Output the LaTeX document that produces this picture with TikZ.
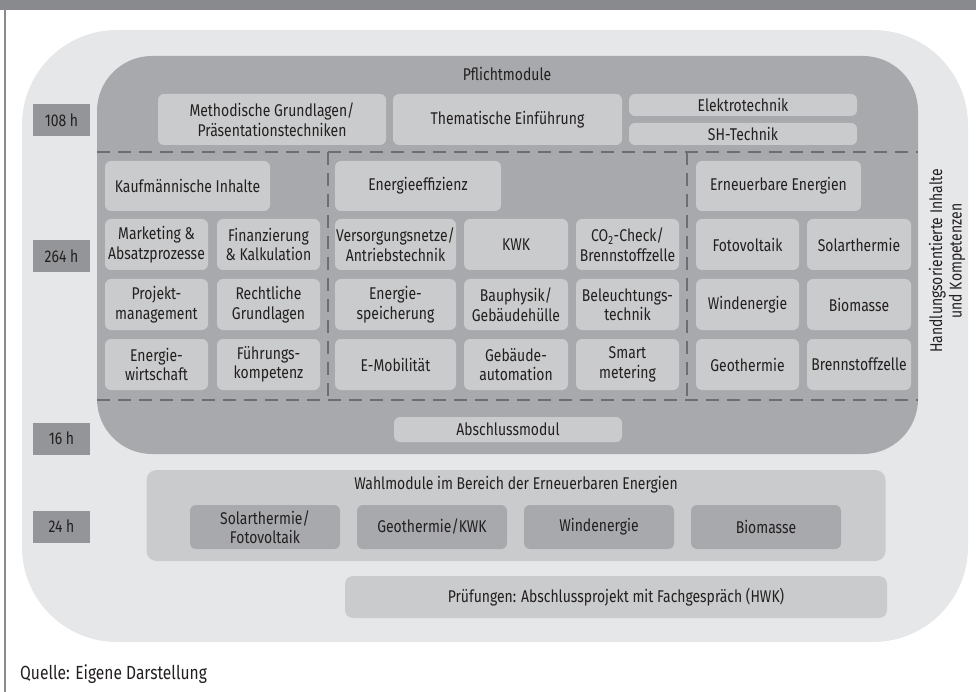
\documentclass[tikz,border=0pt]{standalone}
\usepackage{fontspec}
\setmainfont{Fira Sans}[FakeStretch=0.82]
\definecolor{outergray}{HTML}{E6E7E8}
\definecolor{pflichtgray}{HTML}{A7A9AC}
\definecolor{boxgray}{HTML}{CACBCC}
\definecolor{hourgray}{HTML}{939598}
\definecolor{dashgray}{HTML}{6D6E71}
\definecolor{headgray}{HTML}{898A8D}
\definecolor{textblack}{HTML}{231F20}

\begin{document}
\begin{tikzpicture}[x=1pt,y=-1pt,
	every node/.style={font=\fontsize{17}{19.5}\selectfont,text=textblack,align=center,inner sep=0pt},
	box/.style={fill=boxgray,rounded corners=6pt},
	wbox/.style={fill=pflichtgray,rounded corners=6pt,minimum width=150pt,minimum height=44pt},
	hour/.style={fill=hourgray,minimum width=57pt,minimum height=32pt},
	sep/.style={draw=dashgray,line width=1.3pt,dash pattern=on 13pt off 8pt}]
	\useasboundingbox (0,0) rectangle (976,692);
	% frame
	\fill[headgray] (0,0) rectangle (976,10);
	\draw[headgray,line width=1.5pt] (5,10) -- (5,692);
	\fill[outergray,rounded corners=95pt] (22,30) rectangle (968,642);
	\fill[pflichtgray,rounded corners=55pt] (97,56) rectangle (918,454);
	% Pflichtmodule
	\node (pflicht) at (507,74) {Pflichtmodule};
	\node[box,minimum width=228pt,minimum height=51pt] (meth) at (272,119.5) {Methodische Grundlagen/\\Präsentationstechniken};
	\node[box,minimum width=229pt,minimum height=51pt] (them) at (507.5,119.5) {Thematische Einführung};
	\node[box,minimum width=228pt,minimum height=22pt] (elek) at (743,105) {Elektrotechnik};
	\node[box,minimum width=228pt,minimum height=22pt] (sht) at (743,134) {SH-Technik};
	\draw[sep] (97,152) -- (918,152);
	\draw[sep] (97,400) -- (918,400);
	\draw[sep] (328,152) -- (328,400);
	\draw[sep] (687,152) -- (687,400);
	% Kaufmaennische Inhalte
	\node[box,minimum width=165pt,minimum height=50pt] (kauf) at (187.5,186) {Kaufmännische Inhalte};
	\node[box,minimum width=103pt,minimum height=51pt] (mark) at (156.5,244.5) {Marketing \&\\Absatzprozesse};
	\node[box,minimum width=103pt,minimum height=51pt] (fin) at (268.5,244.5) {Finanzierung\\\& Kalkulation};
	\node[box,minimum width=103pt,minimum height=51pt] (proj) at (156.5,304.5) {Projekt-\\management};
	\node[box,minimum width=103pt,minimum height=51pt] (recht) at (268.5,304.5) {Rechtliche\\Grundlagen};
	\node[box,minimum width=103pt,minimum height=51pt] (ewirt) at (156.5,364.5) {Energie-\\wirtschaft};
	\node[box,minimum width=103pt,minimum height=51pt] (fuehr) at (268.5,364.5) {Führungs-\\kompetenz};
	% Energieeffizienz
	\node[box,minimum width=166pt,minimum height=50pt] (eeff) at (418,186) {Energieeffizienz};
	\node[box,minimum width=121pt,minimum height=51pt] (vers) at (395.5,244.5) {Versorgungsnetze/\\Antriebstechnik};
	\node[box,minimum width=104pt,minimum height=51pt] (kwk) at (516,244.5) {KWK};
	\node[box,minimum width=103pt,minimum height=51pt] (co2) at (627.5,244.5) {CO\textsubscript{2}-Check/\\Brennstoffzelle};
	\node[box,minimum width=121pt,minimum height=51pt] (espei) at (395.5,304.5) {Energie-\\speicherung};
	\node[box,minimum width=104pt,minimum height=51pt] (bau) at (516,304.5) {Bauphysik/\\Gebäudehülle};
	\node[box,minimum width=103pt,minimum height=51pt] (beleu) at (627.5,304.5) {Beleuchtungs-\\technik};
	\node[box,minimum width=121pt,minimum height=51pt] (emob) at (395.5,364.5) {E-Mobilität};
	\node[box,minimum width=104pt,minimum height=51pt] (gauto) at (516,364.5) {Gebäude-\\automation};
	\node[box,minimum width=103pt,minimum height=51pt] (smart) at (627.5,364.5) {Smart\\metering};
	% Erneuerbare Energien
	\node[box,minimum width=165pt,minimum height=50pt] (ern) at (778.5,186) {Erneuerbare Energien};
	\node[box,minimum width=103pt,minimum height=51pt] (foto) at (747.5,244.5) {Fotovoltaik};
	\node[box,minimum width=104pt,minimum height=51pt] (solar) at (859,244.5) {Solarthermie};
	\node[box,minimum width=103pt,minimum height=51pt] (wind) at (747.5,304.5) {Windenergie};
	\node[box,minimum width=104pt,minimum height=51pt] (bio) at (859,304.5) {Biomasse};
	\node[box,minimum width=103pt,minimum height=51pt] (geo) at (747.5,364.5) {Geothermie};
	\node[box,minimum width=104pt,minimum height=51pt] (brenn) at (859,364.5) {Brennstoffzelle};
	\node[box,minimum width=228pt,minimum height=25pt] (abschl) at (508,429.5) {Abschlussmodul};
	\node[rotate=90] (handl) at (947,261) {Handlungsorientierte Inhalte\\und Kompetenzen};
	% Wahlmodule
	\node[box,rounded corners=10pt,minimum width=739pt,minimum height=91pt] (wahl) at (516,515.5) {};
	\node (wahltxt) at (516,485) {Wahlmodule im Bereich der Erneuerbaren Energien};
	\node[wbox] (wsolar) at (265,527) {Solarthermie/\\Fotovoltaik};
	\node[wbox] (wgeo) at (432,527) {Geothermie/KWK};
	\node[wbox] (wwind) at (599,527) {Windenergie};
	\node[wbox] (wbio) at (766,527) {Biomasse};
	\node[box,rounded corners=8pt,minimum width=542pt,minimum height=42pt] (pruef) at (616,597) {Prüfungen: Abschlussprojekt mit Fachgespräch (HWK)};
	% Stunden
	\node[hour] (h108) at (61.5,120) {108 h};
	\node[hour] (h264) at (61.5,256) {264 h};
	\node[hour] (h16) at (61.5,438.5) {16 h};
	\node[hour] (h24) at (61.5,526.5) {24 h};
	\node[anchor=base west,font=\fontsize{19}{22}\selectfont] (quelle) at (20,679) {Quelle: Eigene Darstellung};
\end{tikzpicture}
\end{document}
